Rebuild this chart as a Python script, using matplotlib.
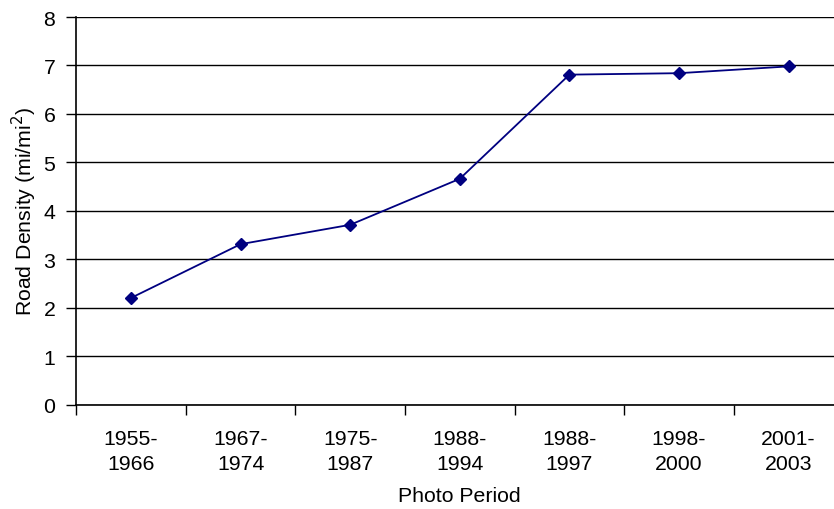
import numpy as np
import matplotlib.pyplot as plt

plt.rcParams['font.family'] = ['Liberation Sans', 'DejaVu Sans']

periods = ["1955-\n1966", "1967-\n1974", "1975-\n1987", "1988-\n1994",
           "1988-\n1997", "1998-\n2000", "2001-\n2003"]
density = [2.2, 3.31, 3.71, 4.66, 6.81, 6.84, 6.98]

fs = 15.3
fig = plt.figure(figsize=(8.34, 5.10), dpi=100)
W, H = 834, 510
left, right, top, bottom = 76.2, 843.4, 18, 405.5
ax = fig.add_axes([left / W, 1 - bottom / H, (right - left) / W, (bottom - top) / H])

x = np.arange(len(periods))
ax.plot(x, density, color='#000080', lw=1.3, marker='D', markersize=5.8,
        markerfacecolor='#000080', markeredgecolor='#000080', clip_on=False, zorder=3)

ax.set_xlim(-0.5, len(periods) - 0.5)
ax.set_ylim(0, 8)
ax.set_yticks(range(0, 9))
ax.yaxis.grid(True, color='black', lw=1)
ax.set_axisbelow(True)

ax.set_xticks(x)
ax.set_xticklabels(periods, fontsize=fs, linespacing=1.38)
ax.set_xticks(np.arange(-0.5, len(periods)), minor=True)
ax.tick_params(axis='x', which='major', length=0, pad=18)
ax.tick_params(axis='x', which='minor', length=7, width=1, color='black')
ax.tick_params(axis='y', length=7, width=1, labelsize=fs, pad=8)

for s in ['top', 'right']:
    ax.spines[s].set_visible(False)
for s in ['left', 'bottom']:
    ax.spines[s].set_color('black')
    ax.spines[s].set_linewidth(1.2)

ax.set_ylabel("Road Density (mi/mi$^2$)", fontsize=fs, labelpad=3)
ax.set_xlabel("Photo Period", fontsize=fs, labelpad=9)

fig.savefig("out.png", dpi=100)
